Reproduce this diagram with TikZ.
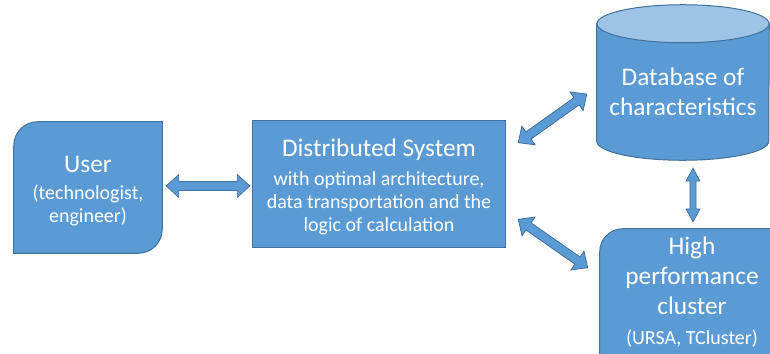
\documentclass[tikz,border=0pt]{standalone}
\usepackage{fontspec}
\setmainfont{Carlito}
\usetikzlibrary{calc,shapes.arrows,backgrounds}

\definecolor{boxblue}{HTML}{5B9BD5}
\definecolor{edgeblue}{HTML}{41719C}
\definecolor{capblue}{HTML}{9DC3E6}

% one line of the larger heading size inside a smaller paragraph
\newcommand\headline[1]{{\fontsize{19}{22.5}\selectfont #1}}

% fat double-headed arrow between two named points
\newcommand\blockarrow[4]{%
  \path let \p1=($(#4)-(#3)$), \n1={atan2(\y1,\x1)}, \n2={veclen(\x1,\y1)} in
    node[#1, minimum height=\n2, rotate=\n1] (#2) at ($(#3)!0.5!(#4)$) {};}

\tikzset{
  outline/.style={fill=boxblue, draw=edgeblue, line width=0.75pt},
  holder/.style={text=white, align=center, inner sep=0pt},
  smalltext/.style={font=\fontsize{15}{17.25}\selectfont},
  bigtext/.style={font=\fontsize{19}{22.5}\selectfont},
  fatarrow/.style={double arrow, outline, line width=0.6pt, inner xsep=0pt,
    inner ysep=3pt, double arrow head extend=5.25pt, double arrow tip angle=85},
  slimarrow/.style={double arrow, outline, line width=0.6pt, inner xsep=0pt,
    inner ysep=2pt, double arrow head extend=2.9pt, double arrow tip angle=57},
}

\begin{document}
\begin{tikzpicture}[x=0.75pt, y=-0.75pt]
\useasboundingbox (0,0) rectangle (770,353);

% boxes (text holders)
\node[holder, smalltext, minimum width=111pt, minimum height=98.25pt] (user) at (88,191.5)
  {\headline{User}\\[3pt](technologist,\\engineer)};
\node[holder, smalltext, minimum width=189pt, minimum height=94.5pt] (ds) at (379,187)
  {\headline{Distributed System}\\[4pt]with optimal architecture,\\data transportation and the\\logic of calculation};
\node[holder, bigtext, minimum width=129pt, minimum height=73.5pt] (db) at (683,92)
  {Database of\\characteristics};
\node[holder, bigtext, minimum width=138pt, minimum height=94.5pt] (cluster) at (692,292)
  {High\\performance\\cluster\\{\fontsize{15}{17.25}\selectfont (URSA, TCluster)}};

% shapes behind the texts
\begin{pgfonlayer}{background}
  \clip (0,0) rectangle (770,353);
  % user: rounded top-left and bottom-right corners
  \draw[outline] ([yshift=3pt]user.south west) -- ([yshift=-15pt]user.north west)
    arc[start angle=180, end angle=90, radius=18pt] -- ([yshift=3pt]user.north east)
    -- ([yshift=21pt]user.south east)
    arc[start angle=0, end angle=-90, radius=18pt] -- cycle;
  % distributed system: plain rectangle
  \draw[outline] ([yshift=2.25pt]ds.north west) rectangle ([yshift=2.25pt]ds.south east);
  % database cylinder
  \draw[outline] ([yshift=14.25pt]db.north west) -- (db.south west)
    arc[start angle=180, end angle=360, x radius=64.5pt, y radius=14.25pt]
    -- ([yshift=14.25pt]db.north east) -- cycle;
  \draw[outline, fill=capblue] ([yshift=14.25pt]db.north)
    ellipse[x radius=64.5pt, y radius=14.25pt];
  % cluster: rounded top-left corner
  \draw[outline] (cluster.south west) -- ([yshift=-17.25pt]cluster.north west)
    arc[start angle=180, end angle=90, radius=17.25pt] -- (cluster.north east)
    -- (cluster.south east) -- cycle;
\end{pgfonlayer}

% arrow end points
\coordinate (ua) at ($(user.east)+(4,-5.5)$);
\coordinate (da) at ($(ds.west)+(-3,-1)$);
\coordinate (db1) at ($(ds.north east)+(13,19)$);
\coordinate (db2) at ($(db.west)+(-10,2)$);
\coordinate (cl1) at ($(ds.south east)+(13,-31)$);
\coordinate (cl2) at ($(cluster.north west)+(-12,39)$);
\coordinate (vd1) at ($(db.south)+(10,27)$);
\coordinate (vd2) at ($(cluster.north)+(1,-7)$);

% connectors
\blockarrow{fatarrow}{userds}{ua}{da}
\blockarrow{fatarrow}{dsdb}{db1}{db2}
\blockarrow{fatarrow}{dscl}{cl1}{cl2}
\blockarrow{slimarrow}{dbcl}{vd1}{vd2}
\end{tikzpicture}
\end{document}
